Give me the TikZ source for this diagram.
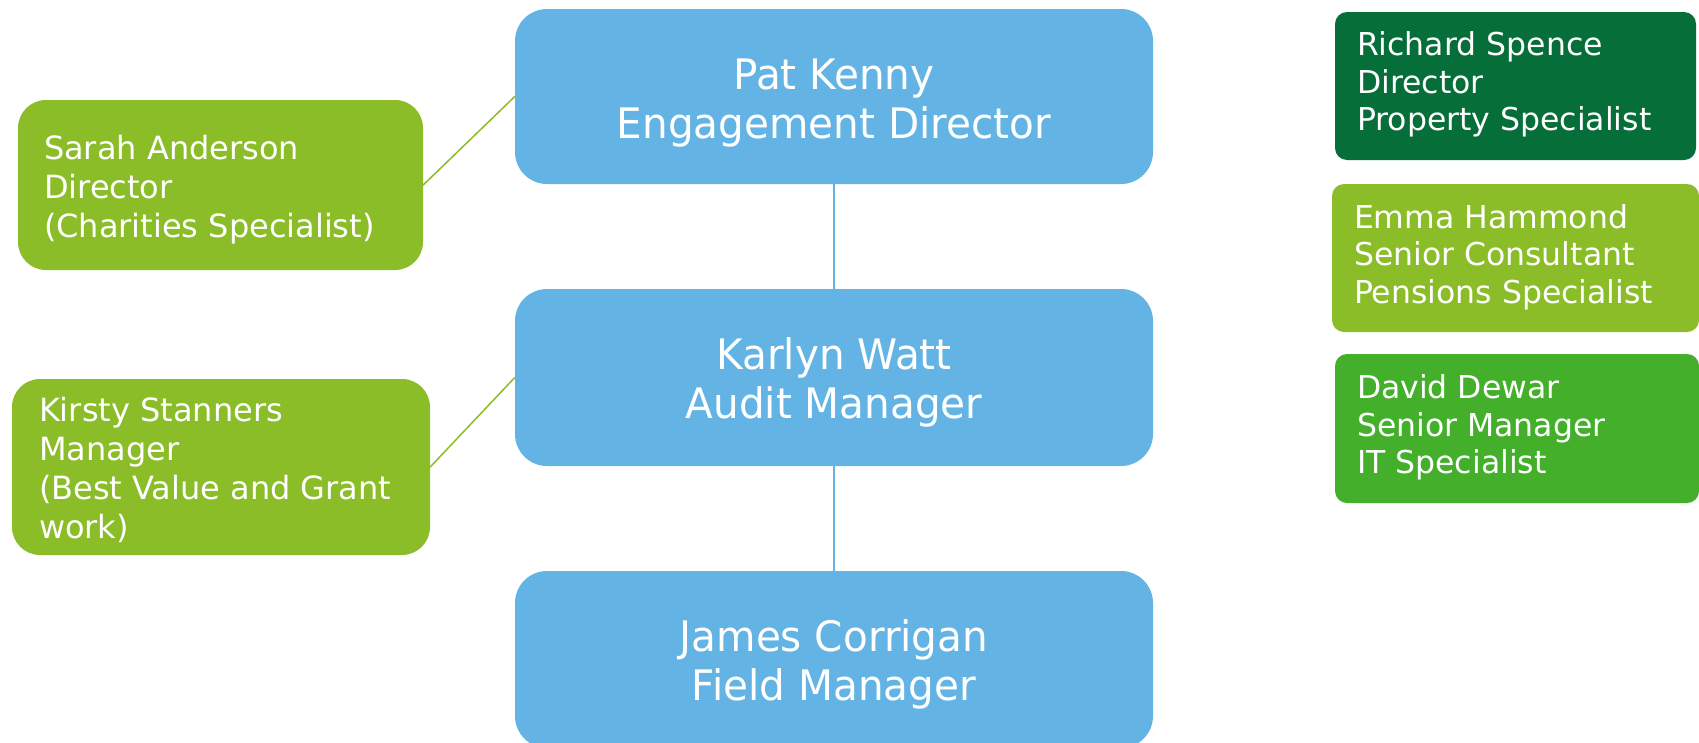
\documentclass[tikz,border=0pt]{standalone}
\usepackage{fontspec}
\setmainfont{DejaVu Sans}
\newfontfamily\bigfont[FakeStretch=0.965]{DejaVu Sans}
\definecolor{boxblue}{HTML}{63B4E4}
\definecolor{lightgreen}{HTML}{8ABD28}
\definecolor{darkgreen}{HTML}{066E39}
\definecolor{midgreen}{HTML}{43AF2B}
\begin{document}
\begin{tikzpicture}[x=1pt,y=-1pt,
  bluebox/.style={fill=boxblue, draw=none, rounded corners=32pt, inner sep=0pt,
    minimum width=638pt},
  bluetext/.style={inner sep=0pt, text=white, align=center,
    font=\bigfont\fontsize{42}{49}\selectfont},
  leftbox/.style={fill=lightgreen, draw=none, rounded corners=28pt, inner sep=0pt},
  lefttext/.style={inner sep=0pt, text=white, align=left, anchor=west,
    font=\fontsize{32}{39}\selectfont},
  rightbox/.style={draw=none, rounded corners=12pt, inner sep=0pt},
  righttext/.style={inner sep=0pt, text=white, align=left, anchor=west,
    font=\fontsize{31.5}{37.5}\selectfont},
  blueline/.style={draw=boxblue, line width=1.5pt},
  greenline/.style={draw=lightgreen, line width=1.5pt}]
\useasboundingbox (0,0) rectangle (1699,742);
\fill[white] (0,0) rectangle (1699,742);
% blue chain
\node[bluebox, minimum height=175pt] (pat) at (834,96.5) {};
\node[bluebox, minimum height=177pt] (karlyn) at (834,377.5) {};
\node[bluebox, minimum height=177pt] (james) at (834,659.5) {};
\node[bluetext] (patT) at ([yshift=-6.5pt]pat.center) {Pat Kenny\\Engagement Director};
\node[bluetext] (karlynT) at ([yshift=-5pt]karlyn.center) {Karlyn Watt\\Audit Manager};
\node[bluetext] (jamesT) at ([yshift=-4.5pt]james.center) {James Corrigan\\Field Manager};
% left specialists
\node[leftbox, minimum width=405pt, minimum height=170pt] (sarah) at (220.5,185) {};
\node[leftbox, minimum width=418pt, minimum height=176pt] (kirsty) at (221,467) {};
\node[lefttext] (sarahT) at ([xshift=26pt,yshift=-5pt]sarah.west)
  {Sarah Anderson\\Director\\(Charities Specialist)};
\node[lefttext] (kirstyT) at ([xshift=27pt,yshift=-3pt]kirsty.west)
  {Kirsty Stanners\\Manager\\(Best Value and Grant\\work)};
% right specialists
\node[rightbox, fill=darkgreen, minimum width=361pt, minimum height=148pt] (richard) at (1515.5,86) {};
\node[rightbox, fill=lightgreen, minimum width=367pt, minimum height=148pt] (emma) at (1515.5,258) {};
\node[rightbox, fill=midgreen, minimum width=364pt, minimum height=149pt] (david) at (1517,428.5) {};
\node[righttext] (richardT) at ([xshift=22pt,yshift=1.5pt]richard.west)
  {Richard Spence\\Director\\Property Specialist};
\node[righttext] (emmaT) at ([xshift=22pt,yshift=1pt]emma.west)
  {Emma Hammond\\Senior Consultant\\Pensions Specialist};
\node[righttext] (davidT) at ([xshift=22pt,yshift=1pt]david.west)
  {David Dewar\\Senior Manager\\IT Specialist};
% connectors
\draw[blueline] (pat.south) -- (karlyn.north);
\draw[blueline] (karlyn.south) -- (james.north);
\draw[greenline] (sarah.east) -- (pat.west);
\draw[greenline] (kirsty.east) -- (karlyn.west);
\end{tikzpicture}
\end{document}
